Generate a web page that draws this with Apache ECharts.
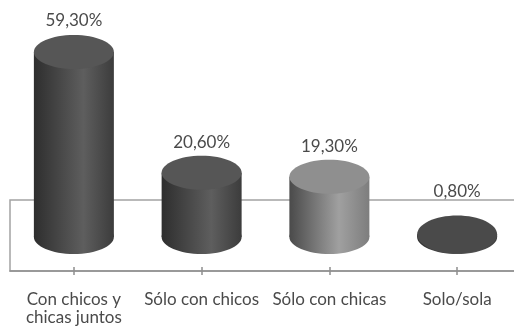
<!DOCTYPE html>
<html>
<head>
<meta charset="utf-8">
<style>html,body{margin:0;padding:0;background:#fff}#c{width:514px;height:326px}</style>
<script src="https://cdn.jsdelivr.net/npm/echarts@6/dist/echarts.min.js"></script>
</head>
<body>
<div id="c"></div>
<script>
const categories = ['Con chicos y\nchicas juntos', 'Sólo con chicos', 'Sólo con chicas', 'Solo/sola'];
const values = [59.3, 20.6, 19.3, 0.8];
const valueLabels = ['59,30%', '20,60%', '19,30%', '0,80%'];

const labelGaps = [31, 30, 30, 43];
const sideDark = ['#2e2e2e', '#2e2e2e', '#4a4a4a', '#2e2e2e'];
const sideLight = ['#5e5e5e', '#5e5e5e', '#a0a0a0', '#5e5e5e'];
const sideEnd = ['#3c3c3c', '#3c3c3c', '#7d7d7d', '#3c3c3c'];
const topFill = ['#565656', '#565656', '#8f8f8f', '#4a4a4a'];
const textColor = '#4a4a4a';
const RY = 17, DISC_RY = 19, BAR_W = 80;
const fontFamily = 'Lato, "Open Sans", sans-serif';
const fontSize = 17;

const chart = echarts.init(document.getElementById('c'), null, {renderer: 'canvas'});
chart.setOption({
  animation: false,
  backgroundColor: '#fff',
  grid: {show: true, left: 10, top: 200, width: 511, height: 71, outerBoundsMode: 'none',
         borderColor: '#a3a3a3', borderWidth: 1.5, backgroundColor: 'transparent'},
  xAxis: [{
    type: 'category', data: categories, position: 'bottom',
    axisLine: {show: true, onZero: false, lineStyle: {color: '#8f8f8f', width: 1.5}},
    axisTick: {show: true, alignWithLabel: true, length: 4, lineStyle: {color: '#8f8f8f', width: 1.5}},
    axisLabel: {margin: 20, fontSize, color: textColor, fontFamily, lineHeight: 18, interval: 0}
  }, {
    type: 'category', data: categories, position: 'bottom',
    axisLine: {show: false, onZero: false},
    axisTick: {show: true, inside: true, alignWithLabel: true, length: 4, lineStyle: {color: '#8f8f8f', width: 1.5}},
    axisLabel: {show: false}
  }],
  yAxis: {type: 'value', show: false, min: -10.9, max: 11.86, splitLine: {show: false}},
  series: [{
    type: 'custom',
    clip: false,
    data: values.map((v, i) => [i, v]),
    encode: {x: 0, y: 1},
    renderItem(params, api) {
      const i = api.value(0);
      const top = api.coord([i, api.value(1)]);
      const base = api.coord([i, 0]);
      const cx = top[0];
      const topRy = api.value(1) < 2 ? DISC_RY : RY;
      const side = new echarts.graphic.LinearGradient(0, 0, 1, 0, [
        {offset: 0, color: sideDark[i]},
        {offset: 0.62, color: sideLight[i]},
        {offset: 1, color: sideEnd[i]}
      ]);
      return {type: 'group', children: [
        {type: 'ellipse', shape: {cx, cy: base[1], rx: BAR_W / 2, ry: RY}, style: {fill: side}},
        {type: 'rect', shape: {x: cx - BAR_W / 2, y: top[1], width: BAR_W, height: base[1] - top[1]}, style: {fill: side}},
        {type: 'ellipse', shape: {cx, cy: top[1], rx: BAR_W / 2, ry: topRy}, style: {fill: topFill[i]}},
        {type: 'text', style: {x: cx, y: top[1] - labelGaps[i], text: valueLabels[i], fill: textColor,
          font: fontSize + 'px ' + fontFamily, align: 'center', verticalAlign: 'middle'}}
      ]};
    }
  }]
});
</script>
</body>
</html>
